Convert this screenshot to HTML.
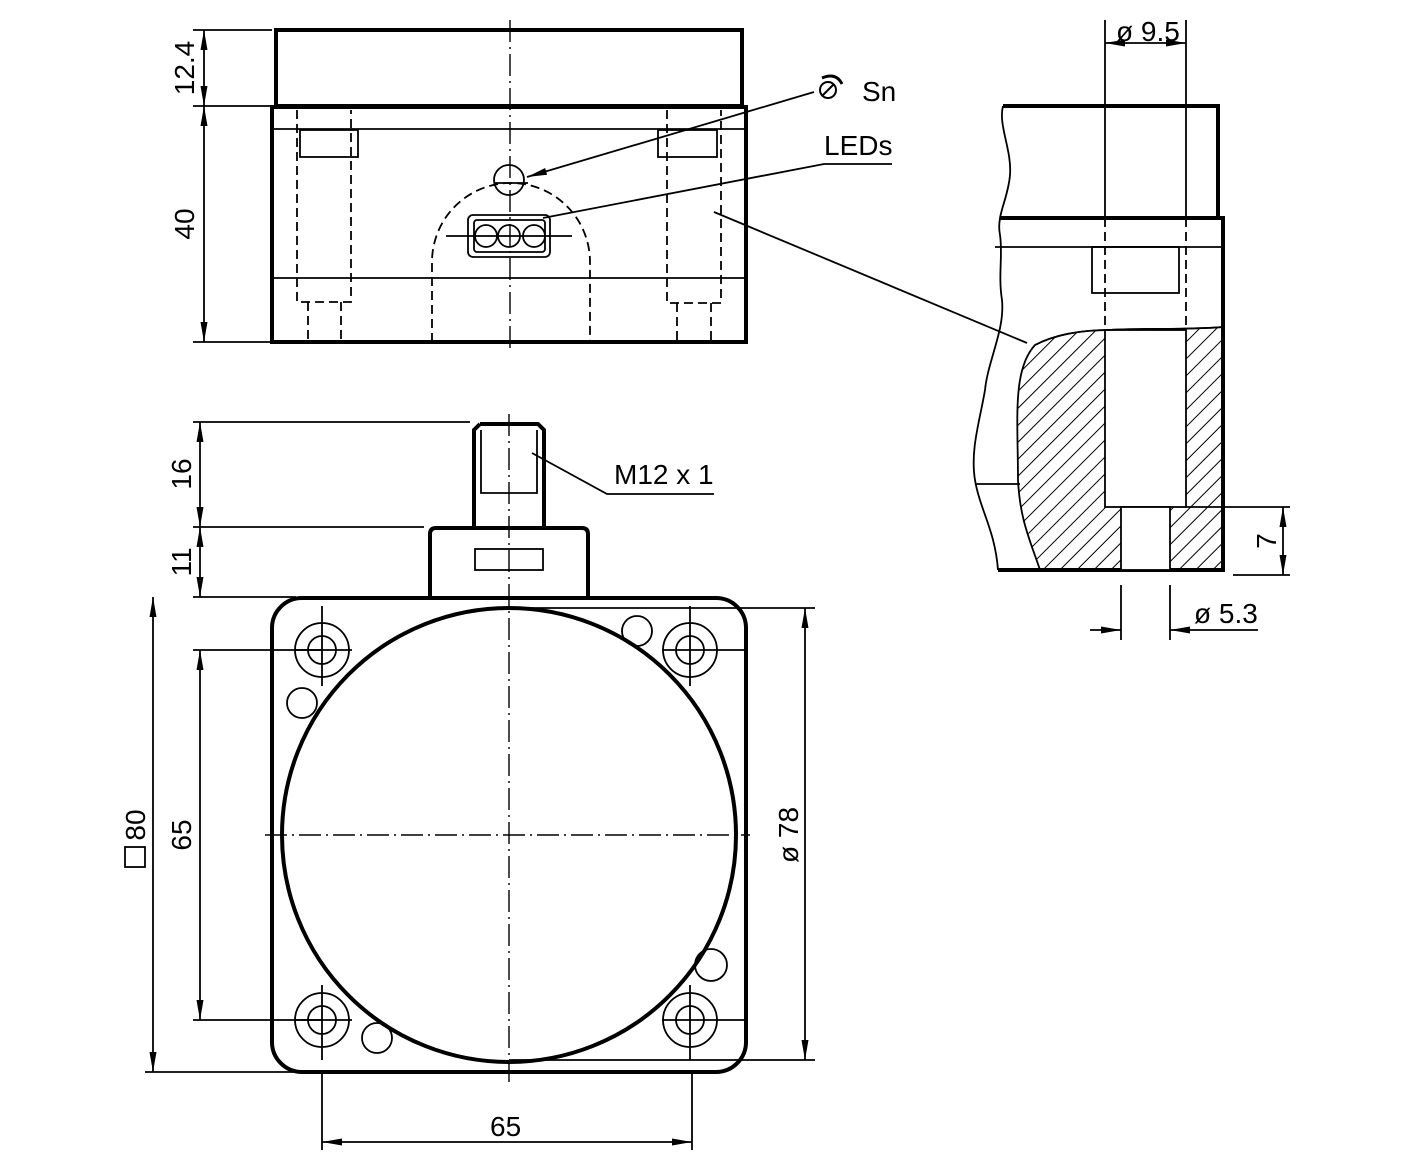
<!DOCTYPE html>
<html><head><meta charset="utf-8"><style>
html,body{margin:0;padding:0;background:#fff}
svg{display:block}
text{font-family:"Liberation Sans",sans-serif;fill:#000}
</style></head><body>
<svg width="1418" height="1169" viewBox="0 0 1418 1169" xmlns="http://www.w3.org/2000/svg">
<defs>
<marker id="a" viewBox="0 0 20 8" refX="20" refY="4" markerWidth="20" markerHeight="8" markerUnits="userSpaceOnUse" orient="auto-start-reverse"><path d="M0,0.5 L20,4 L0,7.5 z" fill="#000"/></marker>
<pattern id="h" width="12" height="12" patternUnits="userSpaceOnUse" patternTransform="rotate(45)"><line x1="0" y1="0" x2="0" y2="12" stroke="#000" stroke-width="2"/></pattern>
</defs>
<g fill="none" stroke="#000">
<!-- TOP VIEW -->
<rect x="276" y="30" width="466" height="76" stroke-width="4"/>
<rect x="272" y="107" width="474" height="235" stroke-width="4"/>
<line x1="272" y1="129" x2="746" y2="129" stroke-width="1.8"/>
<line x1="272" y1="278" x2="746" y2="278" stroke-width="1.8"/>
<rect x="300" y="130" width="58" height="27" stroke-width="1.8"/>
<rect x="658" y="130" width="59" height="27" stroke-width="1.8"/>
<g stroke-dasharray="9,5" stroke-width="1.8">
<path d="M297,110 V302 H351 V110"/>
<path d="M308,302 V342 M341,302 V342"/>
<path d="M667,110 V303 H721 V110"/>
<path d="M677,303 V342 M711,303 V342"/>
<path d="M432,342 V262 A79,79 0 0 1 590,262 V342"/>
</g>
<line x1="510" y1="20" x2="510" y2="352" stroke-width="1.4" stroke-dasharray="22,5,2,5"/>
<circle cx="509" cy="180" r="15" stroke-width="1.8"/>
<line x1="494" y1="183" x2="528" y2="183" stroke-width="1.8"/>
<rect x="468" y="215" width="82" height="42" rx="5" stroke-width="1.8"/>
<rect x="474" y="220" width="71" height="32" rx="3" stroke-width="1.8"/>
<circle cx="486" cy="236" r="11" stroke-width="1.8"/>
<circle cx="509" cy="236" r="11" stroke-width="1.8"/>
<circle cx="534" cy="236" r="11" stroke-width="1.8"/>
<line x1="446" y1="236" x2="572" y2="236" stroke-width="1.8"/>
<line x1="814" y1="92" x2="527" y2="177" stroke-width="1.8" marker-end="url(#a)"/>
<path d="M892,164 H824 L543,218" stroke-width="1.8"/>
<line x1="714" y1="212" x2="1027" y2="343" stroke-width="1.8"/>
<circle cx="828" cy="90" r="8" stroke-width="2"/>
<line x1="822" y1="96" x2="834" y2="84" stroke-width="2"/>
<path d="M822,78 Q836,72 842,84" stroke-width="3"/>
<!-- top dims -->
<g stroke-width="1.8">
<line x1="193" y1="30" x2="272" y2="30"/><line x1="193" y1="106" x2="272" y2="106"/><line x1="193" y1="342" x2="272" y2="342"/>
<line x1="204" y1="30" x2="204" y2="106" marker-start="url(#a)" marker-end="url(#a)"/>
<line x1="204" y1="106" x2="204" y2="342" marker-start="url(#a)" marker-end="url(#a)"/>
</g>
<!-- SIDE VIEW -->
<path d="M1003,106 H1218 V218" stroke-width="4"/>
<path d="M1000,218 H1223 V570 H998" stroke-width="4"/>
<line x1="995" y1="247" x2="1222" y2="247" stroke-width="1.8"/>
<rect x="1092" y="247" width="87" height="46" stroke-width="1.8"/>
<path d="M1003,106 C998,125 1012,150 1010,175 C1008,200 996,215 1000,235 C1003,255 998,275 1002,300 C1005,330 988,360 985,390 C980,420 970,450 975,480 C980,510 995,530 998,570" stroke-width="1.8"/>
<path d="M1035,345 C1060,332 1090,330 1110,330 C1140,328 1190,330 1223,327 V570 H1040 C1030,540 1020,520 1018,480 C1018,420 1012,370 1035,345 z" fill="url(#h)" stroke-width="1.8"/>
<rect x="1105" y="330" width="81" height="177" fill="#fff" stroke-width="1.8"/>
<rect x="1121" y="507" width="49" height="63" fill="#fff" stroke-width="1.8"/>
<path d="M1035,345 C1060,332 1090,330 1110,330 C1140,328 1190,330 1223,327" stroke-width="1.8"/>
<line x1="975" y1="484" x2="1020" y2="484" stroke-width="1.8"/>
<g stroke-width="1.8">
<line x1="1105" y1="20" x2="1105" y2="218"/><line x1="1186" y1="20" x2="1186" y2="218"/>
<line x1="1105" y1="218" x2="1105" y2="330" stroke-dasharray="9,5"/><line x1="1186" y1="218" x2="1186" y2="330" stroke-dasharray="9,5"/>
<line x1="1105" y1="43" x2="1186" y2="43" marker-start="url(#a)" marker-end="url(#a)"/>
<line x1="1186" y1="507" x2="1290" y2="507"/><line x1="1233" y1="575" x2="1290" y2="575"/>
<line x1="1283" y1="507" x2="1283" y2="575" marker-start="url(#a)" marker-end="url(#a)"/>
<line x1="1121" y1="585" x2="1121" y2="640"/><line x1="1170" y1="585" x2="1170" y2="640"/>
<line x1="1090" y1="630" x2="1121" y2="630" marker-end="url(#a)"/>
<line x1="1258" y1="630" x2="1170" y2="630" marker-end="url(#a)"/>
</g>
<!-- BOTTOM VIEW -->
<path d="M480,424 H538 L544,430 V528 M474,528 V430 L480,424" stroke-width="4"/>
<path d="M481,430 V493 H537 V430" stroke-width="1.8"/>
<path d="M430,598 V534 Q430,528 436,528 H582 Q588,528 588,534 V598" stroke-width="4"/>
<rect x="475" y="549" width="68" height="21" stroke-width="1.8"/>
<rect x="272" y="598" width="474" height="474" rx="30" stroke-width="4"/>
<circle cx="509" cy="835" r="227" stroke-width="4"/>
<line x1="509" y1="414" x2="509" y2="1085" stroke-width="1.4" stroke-dasharray="22,5,2,5"/>
<line x1="265" y1="835" x2="750" y2="835" stroke-width="1.4" stroke-dasharray="22,5,2,5"/>
<g stroke-width="1.8">
<circle cx="322" cy="650" r="27"/><circle cx="322" cy="650" r="14"/>
<circle cx="690" cy="650" r="27"/><circle cx="690" cy="650" r="14"/>
<circle cx="322" cy="1020" r="27"/><circle cx="322" cy="1020" r="14"/>
<circle cx="690" cy="1020" r="27"/><circle cx="690" cy="1020" r="14"/>
<path d="M322,606 V686 M296,650 H352 M690,606 V686 M662,650 H746 M322,985 V1060 M296,1020 H352 M690,985 V1060 M662,1020 H746"/>
<circle cx="302" cy="703" r="15"/><circle cx="637" cy="631" r="15"/>
<circle cx="711" cy="965" r="16"/><circle cx="377" cy="1038" r="15"/>
<path d="M532,453 L607,494 H714"/>
<line x1="193" y1="422" x2="470" y2="422"/><line x1="193" y1="527" x2="424" y2="527"/>
<line x1="193" y1="597" x2="296" y2="597"/><line x1="145" y1="1072" x2="296" y2="1072"/>
<line x1="193" y1="650" x2="322" y2="650"/><line x1="193" y1="1020" x2="322" y2="1020"/>
<line x1="200" y1="422" x2="200" y2="527" marker-start="url(#a)" marker-end="url(#a)"/>
<line x1="200" y1="527" x2="200" y2="597" marker-start="url(#a)" marker-end="url(#a)"/>
<line x1="153" y1="597" x2="153" y2="1072" marker-start="url(#a)" marker-end="url(#a)"/>
<line x1="200" y1="650" x2="200" y2="1020" marker-start="url(#a)" marker-end="url(#a)"/>
<line x1="509" y1="608" x2="815" y2="608"/><line x1="509" y1="1060" x2="815" y2="1060"/>
<line x1="805" y1="608" x2="805" y2="1060" marker-start="url(#a)" marker-end="url(#a)"/>
<line x1="322" y1="1072" x2="322" y2="1150"/><line x1="692" y1="1072" x2="692" y2="1150"/>
<line x1="322" y1="1142" x2="692" y2="1142" marker-start="url(#a)" marker-end="url(#a)"/>
</g>
</g>
<g font-size="28">
<text x="862" y="101">Sn</text>
<text x="824" y="155">LEDs</text>
<text x="614" y="484">M12 x 1</text>
<text x="1116" y="41">ø 9.5</text>
<text x="1194" y="623">ø 5.3</text>
<text x="490" y="1136">65</text>
<text transform="translate(194,68) rotate(-90)" text-anchor="middle">12.4</text>
<text transform="translate(194,224) rotate(-90)" text-anchor="middle">40</text>
<text transform="translate(191,474) rotate(-90)" text-anchor="middle">16</text>
<text transform="translate(191,562) rotate(-90)" text-anchor="middle">11</text>
<text transform="translate(191,835) rotate(-90)" text-anchor="middle">65</text>
<text transform="translate(145,825) rotate(-90)" text-anchor="middle">80</text>
<text transform="translate(798,835) rotate(-90)" text-anchor="middle">ø 78</text>
<text transform="translate(1276,541) rotate(-90)" text-anchor="middle">7</text>
</g>
<rect x="125" y="847" width="20" height="20" fill="none" stroke="#000" stroke-width="1.8"/>
</svg>
</body></html>
